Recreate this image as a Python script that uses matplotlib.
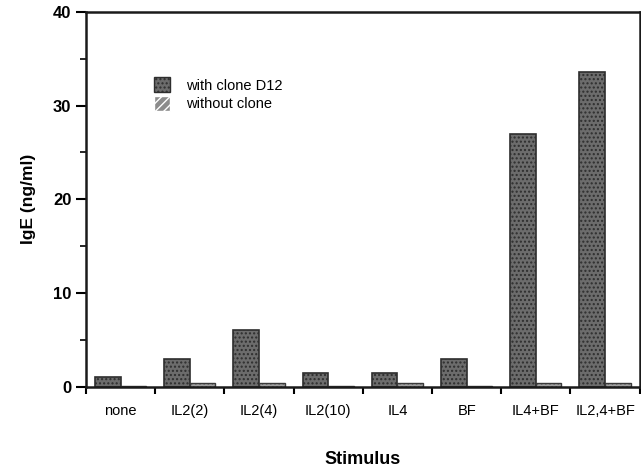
import matplotlib
matplotlib.use('Agg')
import matplotlib.pyplot as plt
from matplotlib.patches import Patch
import numpy as np

plt.rcParams['font.family'] = ['Liberation Sans', 'DejaVu Sans']
plt.rcParams['hatch.linewidth'] = 1.0

STIMULI = ['none', 'IL2(2)', 'IL2(4)', 'IL2(10)', 'IL4', 'BF', 'IL4+BF', 'IL2,4+BF']
WITH_CLONE = [1.1, 3.0, 6.1, 1.5, 1.5, 3.0, 27.0, 33.6]
WITHOUT_CLONE = [0.15, 0.45, 0.45, 0.15, 0.45, 0.15, 0.4, 0.4]

WITH_COLOR = '#6c6c6c'
WITHOUT_COLOR = '#a0a0a0'


def draw_chart():
    fig = plt.figure(figsize=(6.41, 4.69), dpi=100)
    ax = fig.add_axes([0.134, 0.175, 0.864, 0.80])

    x = np.arange(len(STIMULI)) + 0.5
    width = 0.37

    ax.bar(x - width / 2, WITH_CLONE, width, color=WITH_COLOR, edgecolor='#2e2e2e',
           hatch='....', linewidth=1.2)
    ax.bar(x + width / 2, WITHOUT_CLONE, width, color=WITHOUT_COLOR, edgecolor='#3a3a3a',
           hatch='....', linewidth=1.0)

    ax.set_xlim(0, len(STIMULI))
    ax.set_ylim(0, 40)

    ax.set_xticks(np.arange(len(STIMULI) + 1))
    ax.set_xticklabels([])
    ax.set_xticks(x, minor=True)
    ax.set_xticklabels(STIMULI, minor=True, fontsize=10.5)
    ax.tick_params(axis='x', which='major', direction='out', length=5, width=1.5)
    ax.tick_params(axis='x', which='minor', length=0, pad=12)

    ax.set_yticks([0, 10, 20, 30, 40])
    ax.set_yticks([5, 15, 25, 35], minor=True)
    ax.tick_params(axis='y', which='major', direction='out', length=7, width=1.5,
                   labelsize=12)
    ax.tick_params(axis='y', which='minor', direction='out', length=4, width=1.2)
    for lbl in ax.get_yticklabels():
        lbl.set_fontweight('bold')

    for side in ['left', 'bottom', 'top', 'right']:
        ax.spines[side].set_linewidth(1.8)
        ax.spines[side].set_color('#1a1a1a')

    ax.set_ylabel('IgE (ng/ml)', fontsize=12.5, fontweight='bold', labelpad=12)
    ax.set_xlabel('Stimulus', fontsize=13, fontweight='bold', labelpad=24)

    handles = [
        Patch(facecolor=WITH_COLOR, edgecolor='#2e2e2e', hatch='....', label='with clone D12'),
        Patch(facecolor='#8c8c8c', edgecolor='white', hatch='////', label='without clone'),
    ]
    ax.legend(handles=handles, loc='upper left', bbox_to_anchor=(0.1, 0.86),
              frameon=False, fontsize=10.5, handlelength=1.1, handleheight=1.2,
              handletextpad=1.1, labelspacing=0.2)

    fig.savefig('out.png', dpi=100)


def main():
    draw_chart()


if __name__ == "__main__":
    main()
